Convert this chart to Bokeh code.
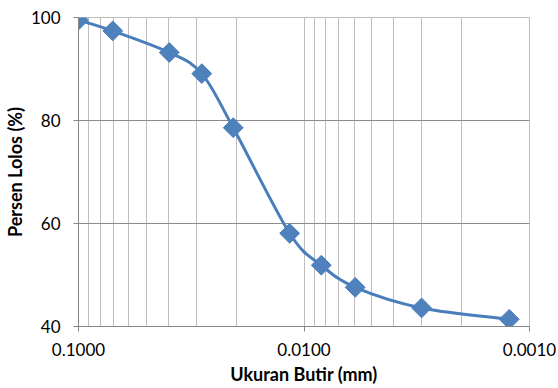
import math
from bokeh.plotting import figure
from bokeh.models import Range1d, FixedTicker, PrintfTickFormatter, ColumnDataSource
from bokeh.embed import file_html
from bokeh.resources import INLINE

# ---- data ----
ukuran_butir = [0.1, 0.0705, 0.0396, 0.0284, 0.0206, 0.01158, 0.00838, 0.00593, 0.00301, 0.00123]
persen_lolos = [99.5, 97.4, 93.2, 89.1, 78.6, 58.1, 51.9, 47.6, 43.6, 41.4]
x_major_ticks = [0.1, 0.01, 0.001]
y_major_ticks = [40, 60, 80, 100]

LINE = "#4A7EBB"
FILL = "#4F81BD"
FONT = "Lato"

p = figure(
    x_axis_type="log",
    x_range=Range1d(0.1, 0.001),
    y_range=Range1d(40, 100),
    width=558, height=388,
    min_border_left=77, min_border_right=29, min_border_top=17, min_border_bottom=62,
    output_backend="svg", toolbar_location=None,
)
p.outline_line_color = "#BDBDBD"
p.background_fill_color = "white"
p.border_fill_color = "white"

# smoothed line (Catmull-Rom -> cubic Bezier in log-x space)
X = [math.log10(v) for v in ukuran_butir]
Y = persen_lolos
n = len(X)
bx0, by0, bx1, by1, cx0, cy0, cx1, cy1 = [], [], [], [], [], [], [], []
for i in range(n - 1):
    xm1, ym1 = (X[i - 1], Y[i - 1]) if i > 0 else (X[i], Y[i])
    xp2, yp2 = (X[i + 2], Y[i + 2]) if i + 2 < n else (X[i + 1], Y[i + 1])
    c1x = X[i] + (X[i + 1] - xm1) / 6
    c1y = Y[i] + (Y[i + 1] - ym1) / 6
    c2x = X[i + 1] - (xp2 - X[i]) / 6
    c2y = Y[i + 1] - (yp2 - Y[i]) / 6
    bx0.append(10 ** X[i]); by0.append(Y[i])
    bx1.append(10 ** X[i + 1]); by1.append(Y[i + 1])
    cx0.append(10 ** c1x); cy0.append(c1y)
    cx1.append(10 ** c2x); cy1.append(c2y)
p.bezier(x0=bx0, y0=by0, x1=bx1, y1=by1, cx0=cx0, cy0=cy0, cx1=cx1, cy1=cy1,
         line_color=LINE, line_width=3)

src = ColumnDataSource(dict(x=ukuran_butir, y=persen_lolos))
p.scatter("x", "y", source=src, marker="square", angle=math.pi / 4, size=14,
          fill_color=FILL, line_color=LINE, line_width=1)

# axes
minor = [m * 10.0 ** e for e in (-3, -2) for m in range(2, 10)]
p.xaxis.ticker = FixedTicker(ticks=x_major_ticks, minor_ticks=minor)
p.xaxis.formatter = PrintfTickFormatter(format="%.4f")
p.yaxis.ticker = FixedTicker(ticks=y_major_ticks)

for ax in (p.xaxis[0], p.yaxis[0]):
    ax.axis_line_color = "#868686"
    ax.axis_line_width = 1
    ax.major_tick_line_color = "#868686"
    ax.major_tick_out = 5
    ax.major_tick_in = 0
    ax.minor_tick_line_color = None
    ax.major_label_text_font = FONT
    ax.major_label_text_font_size = "17px"
    ax.major_label_text_color = "#000000"
    ax.axis_label_text_font = FONT
    ax.axis_label_text_font_size = "18px"
    ax.axis_label_text_font_style = "bold"
    ax.axis_label_text_color = "#000000"

p.xaxis.axis_label = "Ukuran Butir (mm)"
p.yaxis.axis_label = "Persen Lolos (%)"
p.xaxis.major_label_standoff = 11
p.xaxis.axis_label_standoff = 4
p.yaxis.major_label_standoff = 13
p.yaxis.axis_label_standoff = 2

p.xgrid.grid_line_color = "#BDBDBD"
p.xgrid.minor_grid_line_color = "#BDBDBD"
p.ygrid.grid_line_color = "#8C8C8C"

open("out.html", "w").write(file_html(p, INLINE))
